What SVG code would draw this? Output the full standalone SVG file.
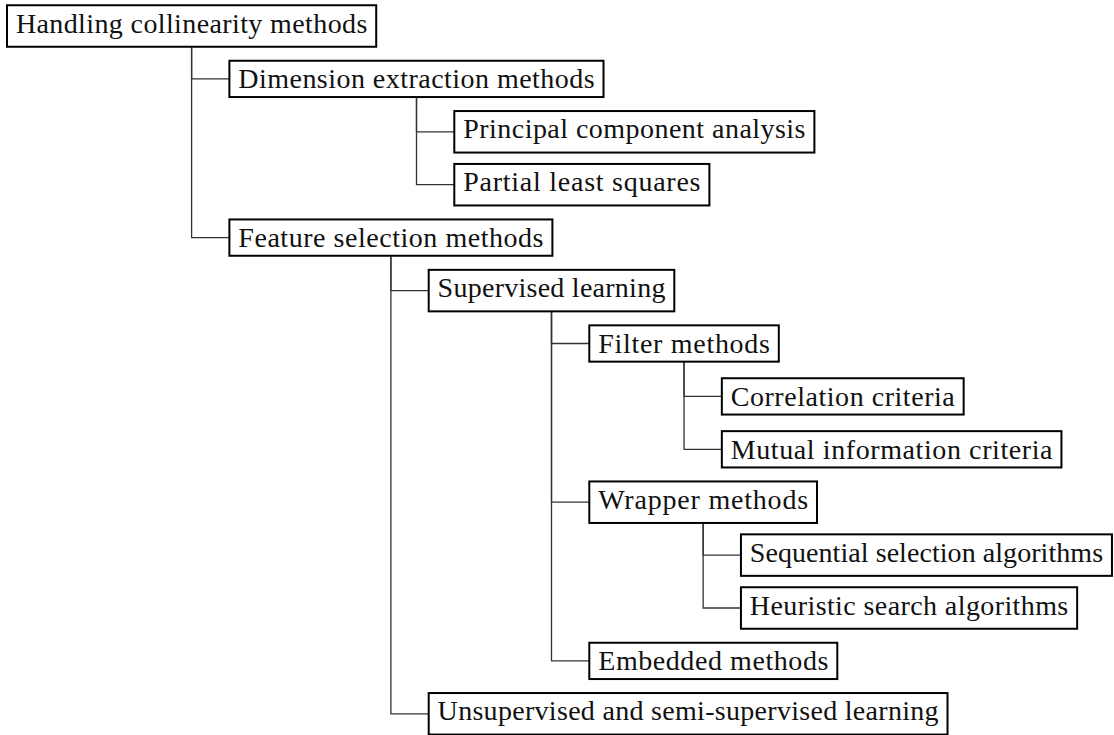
<svg xmlns="http://www.w3.org/2000/svg" width="1114" height="735" viewBox="0 0 1114 735">
  <style>
    .box { fill: #ffffff; stroke: #000000; stroke-width: 2; }
    .lbl { font-family: "Liberation Serif", "Times New Roman", serif; font-size: 28px; fill: #111111; }
    .edge { fill: none; stroke: #333333; stroke-width: 1.3; }
  </style>
  <rect width="1114" height="735" fill="#ffffff"/>

  <!-- tree edges: parent south anchor, down, then right into child west anchor -->
  <g id="connectors">
    <path class="edge" d="M191.6 46.75 V78.9 H229.4"/>
    <path class="edge" d="M191.6 46.75 V237.6 H229.4"/>
    <path class="edge" d="M416.5 97.05 V131.8 H454.3"/>
    <path class="edge" d="M416.5 97.05 V184.7 H454.3"/>
    <path class="edge" d="M390.9 255.75 V290.6 H428.7"/>
    <path class="edge" d="M390.9 255.75 V713.8 H428.7"/>
    <path class="edge" d="M551.5 311.35 V343.5 H589.3"/>
    <path class="edge" d="M551.5 311.35 V502.2 H589.3"/>
    <path class="edge" d="M551.5 311.35 V660.9 H589.3"/>
    <path class="edge" d="M684.05 361.65 V396.4 H721.85"/>
    <path class="edge" d="M684.05 361.65 V449.3 H721.85"/>
    <path class="edge" d="M703.15 522.95 V555.1 H740.95"/>
    <path class="edge" d="M703.15 522.95 V608 H740.95"/>
  </g>

  <g id="root">
    <rect class="box" x="7" y="5.25" width="369.2" height="41.5"/>
    <text class="lbl" x="15.9" y="32.65" textLength="351.4" lengthAdjust="spacing">Handling collinearity methods</text>
  </g>
  <g id="dimension-extraction">
    <rect class="box" x="229.4" y="60.75" width="374.1" height="36.3"/>
    <text class="lbl" x="238.3" y="88.15" textLength="356.3" lengthAdjust="spacing">Dimension extraction methods</text>
  </g>
  <g id="pca">
    <rect class="box" x="454.3" y="111.05" width="360.1" height="41.5"/>
    <text class="lbl" x="463.2" y="138.45" textLength="342.3" lengthAdjust="spacing">Principal component analysis</text>
  </g>
  <g id="pls">
    <rect class="box" x="454.3" y="163.95" width="255.1" height="41.5"/>
    <text class="lbl" x="463.2" y="191.35" textLength="237.3" lengthAdjust="spacing">Partial least squares</text>
  </g>
  <g id="feature-selection">
    <rect class="box" x="229.4" y="219.45" width="323" height="36.3"/>
    <text class="lbl" x="238.3" y="246.85" textLength="305.2" lengthAdjust="spacing">Feature selection methods</text>
  </g>
  <g id="supervised">
    <rect class="box" x="428.7" y="269.85" width="245.6" height="41.5"/>
    <text class="lbl" x="437.6" y="297.25" textLength="227.8" lengthAdjust="spacing">Supervised learning</text>
  </g>
  <g id="filter">
    <rect class="box" x="589.3" y="325.35" width="189.5" height="36.3"/>
    <text class="lbl" x="598.2" y="352.75" textLength="171.7" lengthAdjust="spacing">Filter methods</text>
  </g>
  <g id="correlation">
    <rect class="box" x="721.85" y="378.25" width="241.8" height="36.3"/>
    <text class="lbl" x="730.75" y="405.65" textLength="224" lengthAdjust="spacing">Correlation criteria</text>
  </g>
  <g id="mutual-information">
    <rect class="box" x="721.85" y="431.15" width="339.6" height="36.3"/>
    <text class="lbl" x="730.75" y="458.55" textLength="321.8" lengthAdjust="spacing">Mutual information criteria</text>
  </g>
  <g id="wrapper">
    <rect class="box" x="589.3" y="481.45" width="227.7" height="41.5"/>
    <text class="lbl" x="598.2" y="508.85" textLength="209.9" lengthAdjust="spacing">Wrapper methods</text>
  </g>
  <g id="sequential">
    <rect class="box" x="740.95" y="534.35" width="371" height="41.5"/>
    <text class="lbl" x="749.85" y="561.75" textLength="353.2" lengthAdjust="spacing">Sequential selection algorithms</text>
  </g>
  <g id="heuristic">
    <rect class="box" x="740.95" y="587.25" width="336.2" height="41.5"/>
    <text class="lbl" x="749.85" y="614.65" textLength="318.4" lengthAdjust="spacing">Heuristic search algorithms</text>
  </g>
  <g id="embedded">
    <rect class="box" x="589.3" y="642.75" width="248" height="36.3"/>
    <text class="lbl" x="598.2" y="670.15" textLength="230.2" lengthAdjust="spacing">Embedded methods</text>
  </g>
  <g id="unsupervised">
    <rect class="box" x="428.7" y="693.05" width="518.8" height="41.5"/>
    <text class="lbl" x="437.6" y="720.45" textLength="501" lengthAdjust="spacing">Unsupervised and semi-supervised learning</text>
  </g>
</svg>
